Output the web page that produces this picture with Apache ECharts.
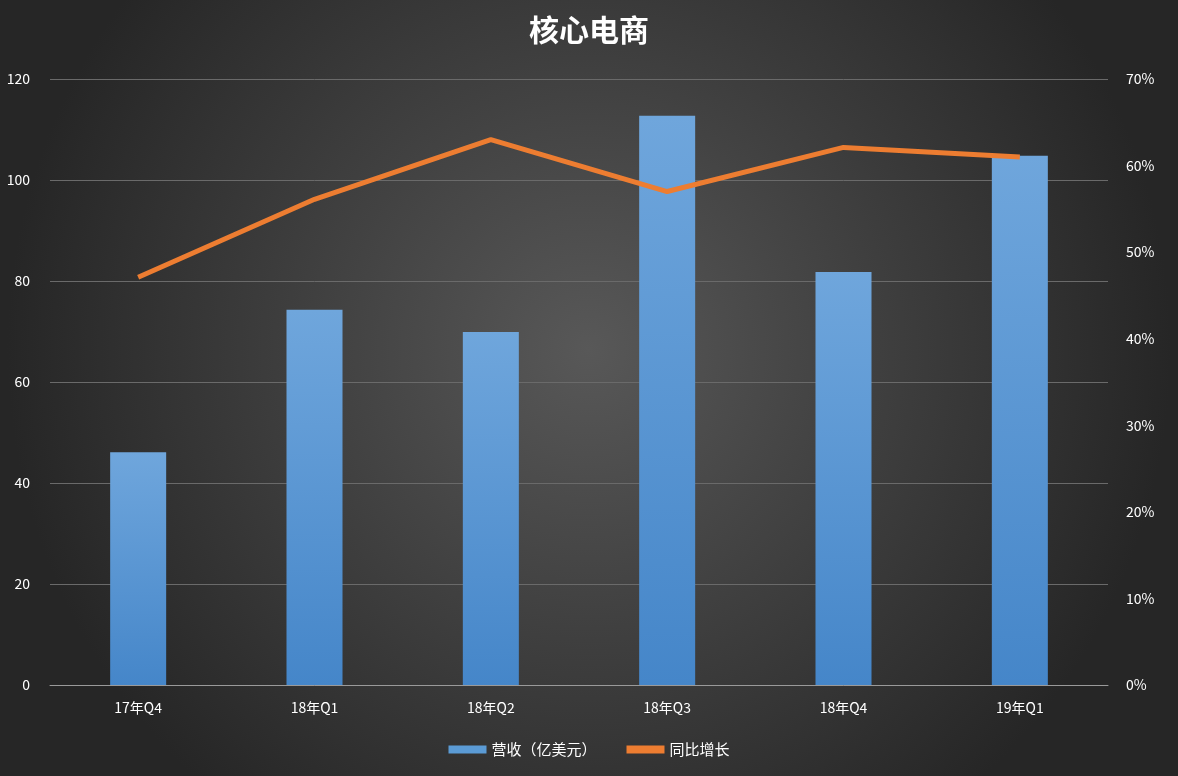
<!DOCTYPE html>
<html>
<head>
<meta charset="utf-8">
<script src="https://cdn.jsdelivr.net/npm/echarts@6/dist/echarts.min.js"></script>
<style>
  html, body { margin: 0; padding: 0; }
  #main { width: 1178px; height: 776px; }
</style>
</head>
<body>
<div id="main"></div>
<script>
// 季度类目
const quarters = ['17年Q4', '18年Q1', '18年Q2', '18年Q3', '18年Q4', '19年Q1'];
// 营收(亿美元)
const revenue = [46.1, 74.3, 69.9, 112.7, 81.8, 104.8];
// 同比增长(%)
const growth = [47.1, 56.1, 63.0, 57.0, 62.1, 61.0];

const chart = echarts.init(document.getElementById('main'));
const font = '"Noto Sans CJK SC", "Noto Sans", sans-serif';

chart.setOption({
    backgroundColor: {
        type: 'radial', x: 0.5, y: 0.45, r: 0.75,
        colorStops: [
            { offset: 0, color: '#585858' },
            { offset: 1, color: '#262626' }
        ]
    },
    textStyle: { fontFamily: font },
    title: {
        text: '核心电商',
        left: 'center',
        top: 10,
        textStyle: { color: '#ffffff', fontSize: 30, fontWeight: 'bold', fontFamily: font }
    },
    legend: {
        bottom: 14,
        itemGap: 30,
        textStyle: { color: '#ffffff', fontSize: 15 },
        data: [
            { name: '营收（亿美元）', icon: 'rect', itemStyle: { color: '#5b9bd5' } },
            { name: '同比增长', icon: 'rect' }
        ],
        itemWidth: 38,
        itemHeight: 8
    },
    grid: { left: 50, right: 70, top: 79, bottom: 91 },
    xAxis: {
        type: 'category',
        data: quarters,
        axisLine: { lineStyle: { color: '#9a9a9a' } },
        axisTick: { show: false },
        axisLabel: { color: '#ffffff', fontSize: 14, margin: 16 }
    },
    yAxis: [
        {
            type: 'value', min: 0, max: 120, interval: 20,
            axisLabel: { color: '#ffffff', fontSize: 14, margin: 20 },
            splitLine: { lineStyle: { color: '#6a6a6a' } }
        },
        {
            type: 'value', min: 0, max: 70, interval: 10,
            axisLabel: { color: '#ffffff', fontSize: 14, formatter: '{value}%', margin: 18 },
            splitLine: { show: false }
        }
    ],
    series: [
        {
            name: '营收（亿美元）',
            type: 'bar',
            data: revenue,
            barWidth: 56,
            itemStyle: {
                color: {
                    type: 'linear', x: 0, y: 0, x2: 0, y2: 1,
                    colorStops: [
                        { offset: 0, color: '#6fa6dc' },
                        { offset: 1, color: '#4586c9' }
                    ]
                }
            }
        },
        {
            name: '同比增长',
            type: 'line',
            yAxisIndex: 1,
            data: growth,
            showSymbol: false,
            lineStyle: { color: '#ed7d31', width: 5 },
            itemStyle: { color: '#ed7d31' }
        }
    ]
});
</script>
</body>
</html>
